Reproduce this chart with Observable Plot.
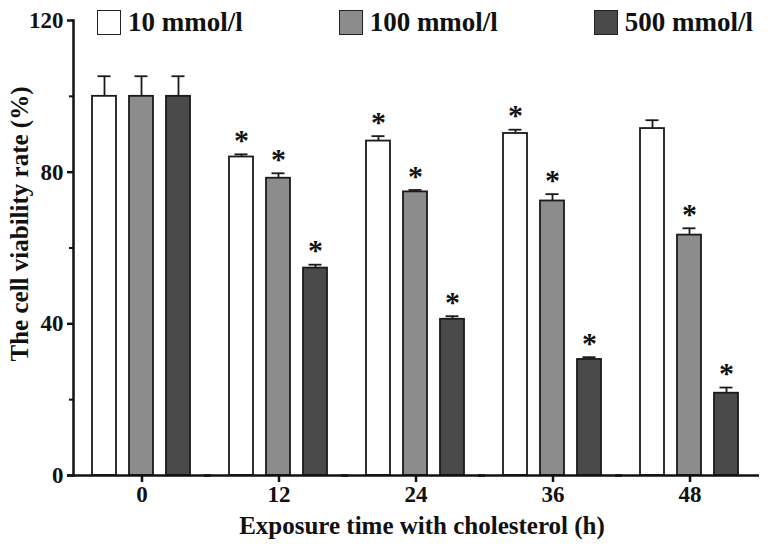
<!DOCTYPE html>
<html><head><meta charset="utf-8">
<script src="https://cdn.jsdelivr.net/npm/d3@7"></script>
<script src="https://cdn.jsdelivr.net/npm/@observablehq/plot@0.6"></script>
<style>
body{margin:0;background:#fff;}
#wrap{position:relative;width:768px;height:547px;font-family:"Liberation Serif","Times New Roman",serif;font-weight:bold;color:#111;}
#legend{position:absolute;left:97px;width:656px;top:9px;display:flex;justify-content:space-between;align-items:center;z-index:2;}
.item{display:flex;align-items:center;}
.sw{width:22px;height:23px;border:1.5px solid #222;margin-right:7px;box-sizing:content-box;}
.lab{font-size:27px;line-height:26px;}
#wrap svg{position:absolute;left:0;top:0;}
</style></head><body><div id="wrap"><div id="legend"></div></div>
<script>
const times = [0, 12, 24, 36, 48];
const series = ["10 mmol/l", "100 mmol/l", "500 mmol/l"];
const colors = ["#ffffff", "#8c8c8c", "#4a4a4a"];
const mean10 = [100, 84.0, 88.2, 90.2, 91.5];
const mean100 = [100, 78.4, 74.8, 72.4, 63.4];
const mean500 = [100, 54.7, 41.2, 30.6, 21.7];
const err10 = [5.3, 0.7, 1.3, 1.0, 2.2];
const err100 = [5.3, 1.3, 0.5, 1.8, 1.8];
const err500 = [5.3, 0.9, 0.8, 0.6, 1.5];
const sig10 = [false, true, true, true, false];
const sig100 = [false, true, true, true, true];
const sig500 = [false, true, true, true, true];
const yTicks = [0, 40, 80, 120];
const yMinorTicks = [20, 60, 100];
const yLabel = "The cell viability rate (%)";
const xLabel = "Exposure time with cholesterol (h)";

const means = [mean10, mean100, mean500];
const errs = [err10, err100, err500];
const sigs = [sig10, sig100, sig500];
const rows = [];
times.forEach((t, i) => series.forEach((s, j) => rows.push({time: t, series: s, mean: means[j][i], err: errs[j][i], sig: sigs[j][i]})));

const font = '"Liberation Serif","Times New Roman",serif';
const ink = "#1a1a1a";
const chart = Plot.plot({
  width: 768, height: 547,
  marginLeft: 73, marginRight: 10, marginTop: 20, marginBottom: 72,
  style: {fontFamily: font, fontWeight: "bold", background: "transparent", color: "#111", fontSize: "22px"},
  fx: {domain: times, padding: 0, label: null},
  x: {domain: series, paddingInner: 0.35, paddingOuter: 0.5, axis: null},
  y: {domain: [0, 120]},
  color: {domain: series, range: colors},
  marks: [
    Plot.barY(rows, {fx: "time", x: "series", y: "mean", fill: "series", stroke: ink, strokeWidth: 1.8}),
    Plot.ruleX(rows, {fx: "time", x: "series", y1: "mean", y2: d => d.mean + d.err, stroke: ink, strokeWidth: 1.8}),
    Plot.tickY(rows, {fx: "time", x: "series", y: d => d.mean + d.err, stroke: ink, strokeWidth: 1.8, insetLeft: 5.5, insetRight: 5.5}),
    Plot.text(rows.filter(d => d.sig), {fx: "time", x: "series", y: d => d.mean + d.err, text: () => "*", dy: -14, fontSize: 30, fontFamily: font, fontWeight: "bold", fill: "#111"}),
    Plot.ruleY([0], {stroke: "#111", strokeWidth: 2.5, insetLeft: -6, insetRight: -1}),
    Plot.frame({anchor: "left", facetAnchor: "left", stroke: "#111", strokeWidth: 2.5}),
    Plot.axisY({ticks: yTicks, tickSize: 6, tickPadding: 4, fontSize: 23, strokeWidth: 2.5, label: null}),
    Plot.axisY({ticks: yMinorTicks, tickSize: 4, tickFormat: () => "", strokeWidth: 2, label: null}),
    Plot.axisFx({anchor: "bottom", tickSize: 7, tickPadding: 3, fontSize: 23, strokeWidth: 2.5, label: null}),
    Plot.text([{time: times[0], label: yLabel}], {fx: "time", text: "label", frameAnchor: "left", rotate: -90, textAnchor: "middle", lineAnchor: "middle", dx: -54, dy: -24, fontSize: 25, fontFamily: font, fontWeight: "bold", fill: "#111"}),
    Plot.text([{time: times[2], label: xLabel}], {fx: "time", text: "label", frameAnchor: "bottom", textAnchor: "middle", lineAnchor: "middle", dx: 6, dy: 50, fontSize: 25, fontFamily: font, fontWeight: "bold", fill: "#111"})
  ]
});
const wrap = document.getElementById("wrap");
wrap.appendChild(chart);

const legend = document.getElementById("legend");
series.forEach((s, j) => {
  const item = document.createElement("div");
  item.className = "item";
  const sw = document.createElement("div");
  sw.className = "sw";
  sw.style.background = colors[j];
  const lab = document.createElement("span");
  lab.className = "lab";
  lab.textContent = s;
  item.appendChild(sw);
  item.appendChild(lab);
  legend.appendChild(item);
});
</script></body></html>
